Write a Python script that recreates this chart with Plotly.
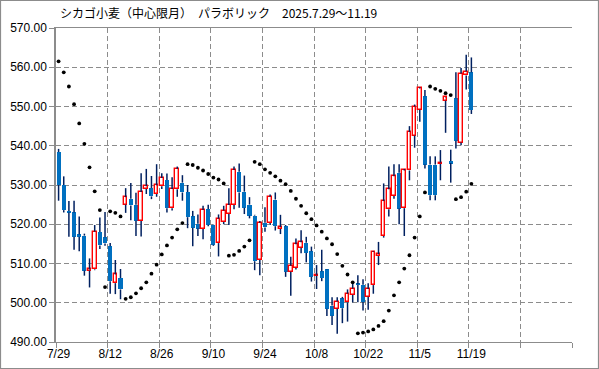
import plotly.graph_objects as go

# ---- data (trading-day index 0 = 7/29 ... 80 = 11/19) ----
tick_labels = ["7/29", "8/12", "8/26", "9/10", "9/24", "10/8", "10/22", "11/5", "11/19"]

opens = [538.4, 530.0, 523.4, 523.0, 517.4, 517.1, 508.2, 508.5, 518.0, 516.7,
         514.4, 505.0, 506.3, 525.0, 526.5, 525.0, 520.8, 529.0, 529.2, 527.7,
         529.7, 531.3, 524.1, 528.9, 530.6, 528.2, 522.0, 520.1, 518.8, 523.9,
         519.9, 515.2, 520.6, 522.6, 524.9, 533.4, 528.3, 525.0, 522.2, 510.9,
         520.4, 520.3, 526.3, 518.8, 519.5, 507.9, 508.9, 514.0, 515.3, 513.1,
         506.9, 508.0, 508.5, 499.3, 498.5, 501.1, 500.1, 502.0, 504.8, 504.6,
         501.5, 504.5, 511.9, 517.0, 523.8, 527.2, 533.1, 524.1, 533.7, 542.6,
         549.2, 552.6, 535.2, 535.2, 535.4, 551.5, 536.1, 552.1, 540.8, 557.9,
         558.7]
highs = [539.2, 532.2, 525.9, 526.0, 522.0, 517.6, 511.3, 519.8, 521.7, 523.1,
         515.2, 510.9, 508.6, 529.2, 530.5, 528.0, 533.0, 534.1, 532.3, 535.3,
         533.0, 532.9, 532.0, 534.7, 532.5, 530.0, 523.4, 522.5, 524.7, 525.0,
         520.0, 522.5, 524.7, 529.2, 534.7, 535.5, 532.4, 526.9, 522.4, 520.8,
         524.3, 527.6, 528.1, 522.4, 519.8, 511.7, 516.4, 518.5, 516.8, 514.3,
         509.6, 513.5, 508.6, 501.4, 501.4, 501.5, 503.4, 505.4, 507.0, 506.0,
         505.0, 513.2, 515.5, 530.4, 534.7, 535.3, 535.3, 534.1, 545.0, 550.5,
         554.9, 554.2, 537.3, 537.3, 538.9, 552.4, 539.0, 558.7, 559.8, 563.2,
         562.5]
lows = [526.0, 523.0, 516.8, 513.5, 513.1, 506.9, 503.9, 508.3, 513.7, 514.5,
        502.3, 502.2, 500.9, 522.9, 521.0, 517.0, 516.9, 527.7, 526.4, 527.0,
        529.0, 523.0, 523.5, 527.0, 526.0, 519.0, 514.4, 517.0, 516.2, 519.5,
        514.5, 511.8, 520.0, 519.8, 523.8, 524.2, 522.6, 521.5, 508.3, 507.0,
        518.1, 519.8, 518.4, 517.5, 506.6, 501.8, 508.5, 512.6, 510.3, 505.4,
        503.5, 505.5, 496.6, 494.3, 492.1, 494.8, 495.2, 500.1, 500.1, 498.0,
        498.2, 502.3, 509.6, 516.6, 522.0, 526.5, 520.0, 517.0, 531.2, 539.5,
        546.1, 534.2, 526.1, 526.1, 531.2, 543.3, 530.6, 539.3, 540.1, 554.3,
        548.1]
closes = [530.0, 523.6, 523.0, 516.8, 516.8, 508.2, 508.5, 518.1, 514.6, 515.1,
          505.5, 507.2, 503.4, 526.9, 524.8, 520.9, 528.2, 529.7, 527.1, 529.9,
          531.8, 524.1, 529.0, 534.1, 528.1, 521.8, 519.1, 518.9, 523.6, 519.9,
          514.8, 521.4, 523.5, 524.9, 533.8, 528.1, 524.2, 522.2, 510.6, 520.4,
          519.2, 527.0, 519.5, 519.3, 507.9, 509.4, 514.9, 515.4, 512.7, 506.6,
          507.1, 506.3, 498.5, 496.7, 500.3, 498.6, 502.3, 503.6, 504.6, 500.2,
          503.5, 513.0, 512.4, 525.9, 528.9, 532.2, 524.0, 533.7, 543.5, 550.0,
          554.6, 535.2, 527.4, 527.4, 535.7, 552.3, 535.6, 541.3, 558.4, 558.9,
          549.1]
sar = [561.5, 558.7, 555.1, 550.6, 545.7, 540.5, 534.5, 528.4, 523.6, 504.0,
       523.3, 522.9, 522.0, 501.0, 501.4, 502.4, 503.7, 505.2, 507.4, 509.7,
       512.3, 514.6, 516.6, 518.7, 520.3, 535.3, 535.1, 534.4, 533.7, 532.8,
       531.9, 531.4, 530.4, 512.0, 512.2, 513.2, 514.3, 515.9, 535.9, 535.3,
       534.0, 533.1, 532.2, 531.1, 530.2, 528.5, 526.5, 524.7, 522.8, 521.3,
       519.7, 518.1, 516.4, 514.9, 512.4, 509.4, 507.2, 505.2, 492.2, 492.4,
       492.7, 493.2, 494.1, 495.3, 498.0, 501.9, 505.2, 508.7, 512.1, 516.6,
       522.0, 528.1, 555.1, 554.5, 554.0, 553.4, 552.9, 526.4, 526.9, 528.3,
       530.3]

n = len(closes)
idx = list(range(n))

W, H = 599, 369
ML, MR, MT, MB = 56, 27, 28, 27
FONT = "Noto Sans CJK JP"
NUMFONT = "Liberation Sans"
GRID = "#8c8c8c"
AXIS = "#8c8c8c"

# wick segments (drawn outside the bodies)
wx, wy = [], []
for i in idx:
    top = max(opens[i], closes[i])
    bot = min(opens[i], closes[i])
    wx += [i, i, None, i, i, None]
    wy += [lows[i], bot, None, top, highs[i], None]

up = [i for i in idx if closes[i] >= opens[i]]
dn = [i for i in idx if closes[i] < opens[i]]

def body(ids):
    base = [min(opens[i], closes[i]) for i in ids]
    h = [max(abs(closes[i] - opens[i]), 0.25) for i in ids]
    return base, h

fig = go.Figure()
fig.add_trace(go.Scatter(x=wx, y=wy, mode="lines",
                         line=dict(color="#002060", width=1.5),
                         hoverinfo="skip", showlegend=False))
b, h = body(dn)
fig.add_trace(go.Bar(x=dn, y=h, base=b, width=0.78,
                     marker=dict(color="#0070C0", line=dict(width=0)),
                     showlegend=False))
b, h = body(up)
fig.add_trace(go.Bar(x=up, y=h, base=b, width=0.7,
                     marker=dict(color="#FFFFFF", line=dict(color="#FF0000", width=1.4)),
                     showlegend=False))
fig.add_trace(go.Scatter(x=idx, y=sar, mode="markers",
                         marker=dict(color="#000000", size=3.8, symbol="circle"),
                         showlegend=False))

pw = W - ML - MR
ph = H - MT - MB
fig.add_shape(type="rect", xref="paper", yref="paper",
              x0=-(ML - 0.5) / pw, x1=1 + (MR - 0.5) / pw,
              y0=-(MB - 0.5) / ph, y1=1 + (MT - 0.5) / ph,
              line=dict(color="#8c8c8c", width=1.2), fillcolor="rgba(0,0,0,0)", layer="below")

fig.update_layout(
    width=W, height=H,
    margin=dict(l=ML, r=MR, t=MT, b=MB, pad=0, autoexpand=False),
    paper_bgcolor="white", plot_bgcolor="white",
    barmode="overlay", bargap=0,
    font=dict(family=FONT, size=11, color="#000000"),
    title=dict(text="シカゴ小麦（中心限月）　パラボリック　2025.7.29～11.19",
               xref="container", yref="container", x=60 / W, xanchor="left",
               y=1 - 14 / H, yanchor="middle",
               font=dict(family=FONT, size=12, color="#000000")),
    xaxis=dict(range=[-0.5, 99.5], tickmode="array", automargin=False,
               tickvals=[i * 10 for i in range(len(tick_labels))], ticktext=tick_labels,
               ticks="", showgrid=False, zeroline=False,
               showline=True, mirror=True, linecolor=AXIS, linewidth=1.2,
               tickfont=dict(family=NUMFONT, size=12),
               minor=dict(tickmode="linear", tick0=-0.5, dtick=10, ticks="outside",
                          ticklen=5, tickcolor=AXIS, tickwidth=1,
                          showgrid=True, gridcolor=GRID, griddash="5px,3px", gridwidth=1)),
    yaxis=dict(range=[490, 570], tickmode="linear", tick0=490, dtick=10, automargin=False,
               tickformat=".2f", ticks="outside", ticklen=5, tickcolor=AXIS,
               showgrid=True, gridcolor=GRID, griddash="5px,3px", gridwidth=1,
               zeroline=False, showline=True, linecolor=AXIS, linewidth=1.5,
               tickfont=dict(family=NUMFONT, size=12)),
)

fig.write_html("out.html", config={"displayModeBar": False},
               post_script="document.body.style.margin='0';document.body.style.overflow='hidden';")
